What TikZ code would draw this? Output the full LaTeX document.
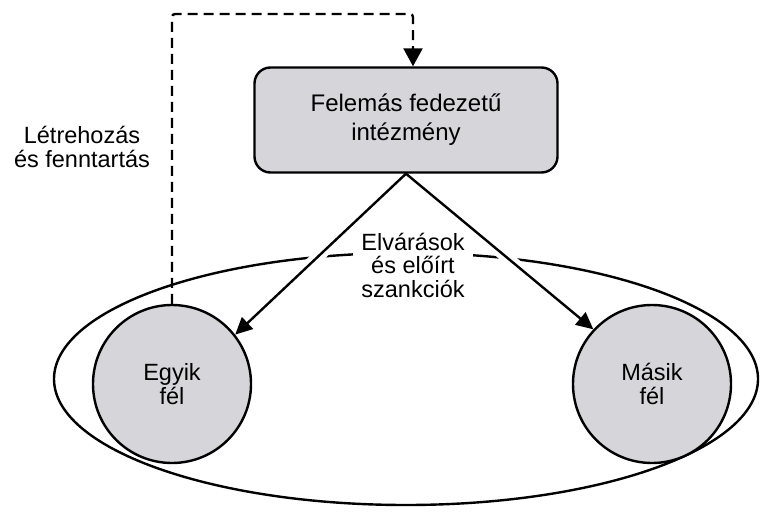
\documentclass[tikz,border=0pt]{standalone}
\usepackage{fontspec}
\setmainfont{Liberation Sans}
\usetikzlibrary{arrows.meta}
\definecolor{partgray}{HTML}{D6D5DA}
\tikzset{
  txt/.style={align=center, font=\fontsize{23.5}{23.5}\selectfont},
  party/.style={txt, circle, draw, line width=2.4pt, fill=partgray, minimum size=158pt, inner sep=0pt},
  instbox/.style={txt, draw, line width=2.4pt, fill=partgray, rounded corners=16pt,
    minimum width=303pt, minimum height=105pt, font=\fontsize{24}{29}\selectfont},
  feedback/.style={line width=2.4pt, dash pattern=on 10pt off 6pt, rounded corners=3pt,
    -{Triangle[length=18pt, width=19pt]}},
  rule/.style={line width=2.4pt, -{Triangle[length=17pt, width=16pt]},
    preaction={draw=white, line width=12pt, -, shorten <=40pt, shorten >=40pt}}
}

\begin{document}
\begin{tikzpicture}[x=1pt, y=1pt]
\useasboundingbox (0,0) rectangle (762,515);

% Outer ellipse round both sides
\draw[line width=2.4pt] (406,136) ellipse (352 and 126);

% The two sides and the institution
\node[party] (lc) at (172,131) {Egyik\\fél};
\node[party] (rc) at (652,131) {Másik\\fél};
\node[instbox] (box) at (406,395) {Felemás fedezetű\\intézmény};

% Labels
\node[txt] (setup) at (82,368) {Létrehozás\\és fenntartás};
\node[txt, fill=white, inner xsep=8pt, inner ysep=3pt] (rules) at (413,250) {Elvárások\\és előírt\\szankciók};

% Feedback loop
\coordinate (loop) at (413,501);
\draw[feedback] (lc.north) |- (loop) -- ([xshift=7pt]box.north);

% Expectations towards both sides
\draw[rule] (box.south) -- (lc.38);
\draw[rule] (box.south) -- (rc.137);

\end{tikzpicture}
\end{document}
